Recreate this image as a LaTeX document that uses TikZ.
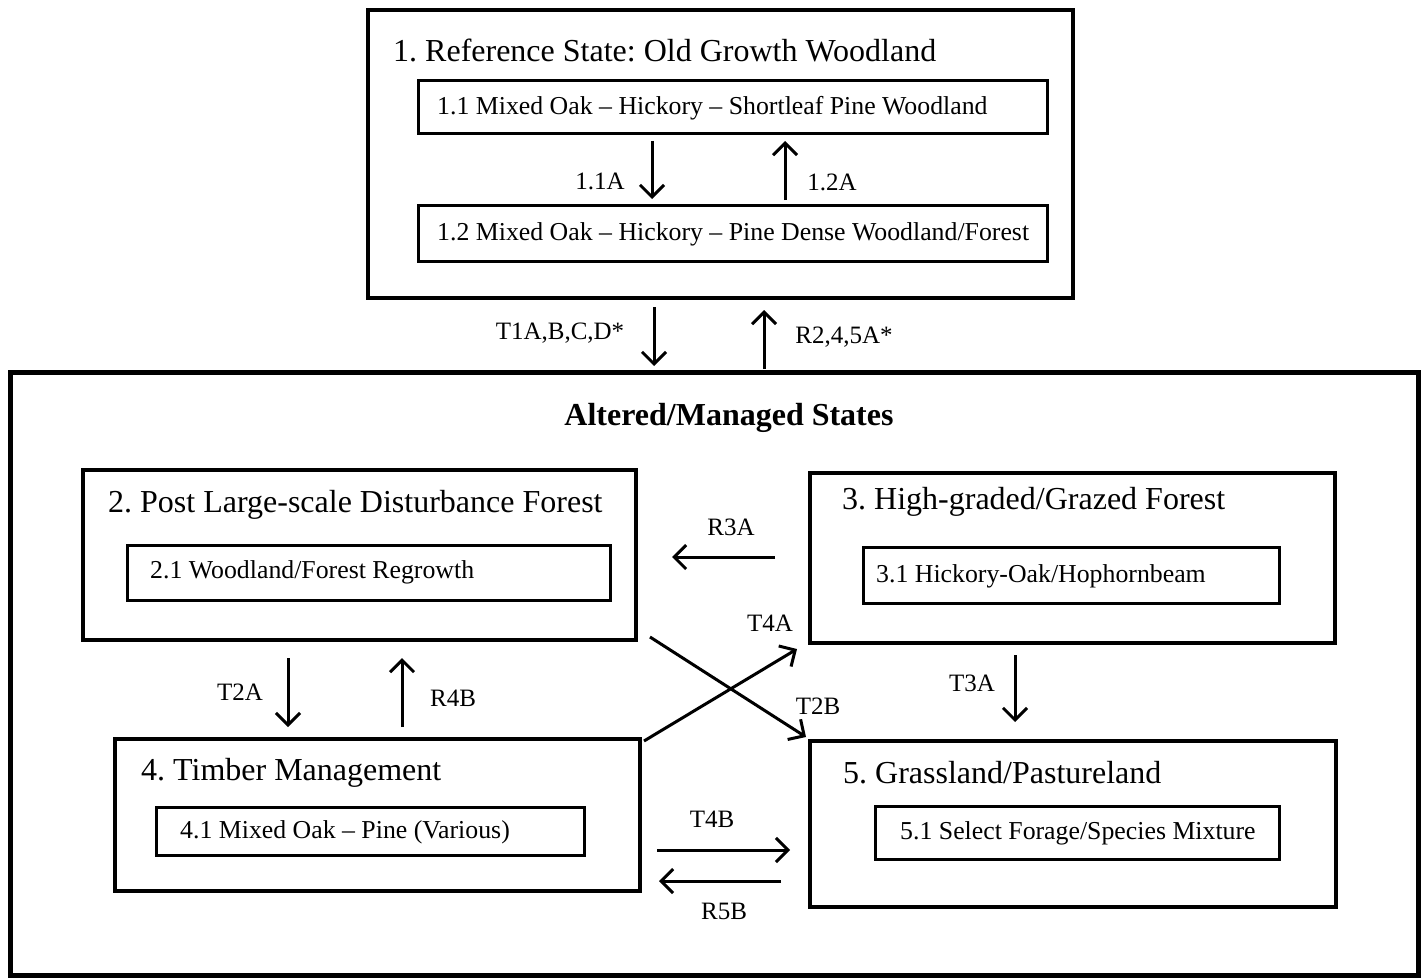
\documentclass[tikz,border=0pt]{standalone}
\usepackage{fontspec}
\setmainfont{Liberation Serif}
\usetikzlibrary{arrows.meta}
\frenchspacing
\begin{document}
\begin{tikzpicture}[x=1pt,y=-1pt,
  statebox/.style={draw, line width=3.5pt, inner sep=0pt},
  subbox/.style={draw, line width=3pt, inner sep=0pt},
  bigbox/.style={draw, line width=5pt, inner sep=0pt},
  titletext/.style={anchor=west, inner sep=0pt, font=\fontsize{32}{36}\selectfont},
  subtext/.style={anchor=west, inner sep=0pt, font=\fontsize{25.8}{30}\selectfont},
  lbl/.style={inner sep=0pt, font=\fontsize{25}{28}\selectfont},
  arr/.style={line width=3pt, -{Straight Barb[length=12pt,width=24pt]}}
]
\path[fill=white, use as bounding box] (0,0) rectangle (1425,979);

% boxes
\node[statebox, minimum width=705pt, minimum height=288pt] (b1) at (720.5,154) {};
\node[subbox, minimum width=629pt, minimum height=53pt] (b11) at (732.5,107.5) {};
\node[subbox, minimum width=629pt, minimum height=56pt] (b12) at (732.5,233) {};
\node[bigbox, minimum width=1408pt, minimum height=603pt] (outer) at (714,673.5) {};
\node[statebox, minimum width=553pt, minimum height=170pt] (b2) at (359.5,555) {};
\node[subbox, minimum width=483pt, minimum height=55pt] (b21) at (368.5,572.5) {};
\node[statebox, minimum width=525pt, minimum height=170pt] (b3) at (1072.5,558) {};
\node[subbox, minimum width=416pt, minimum height=56pt] (b31) at (1071,575) {};
\node[statebox, minimum width=525pt, minimum height=152pt] (b4) at (377.5,815) {};
\node[subbox, minimum width=428pt, minimum height=48pt] (b41) at (370,831) {};
\node[statebox, minimum width=526pt, minimum height=166pt] (b5) at (1073,824) {};
\node[subbox, minimum width=404pt, minimum height=53pt] (b51) at (1077,832.5) {};

% texts
\node[titletext] (t1) at (393,50) {1. Reference State: Old Growth Woodland};
\node[subtext] (t11) at (437,108) {1.1 Mixed Oak – Hickory – Shortleaf Pine Woodland};
\node[subtext] (t12) at (437,234) {1.2 Mixed Oak – Hickory – Pine Dense Woodland/Forest};
\node[inner sep=0pt, font=\fontsize{32}{36}\selectfont\bfseries] (tout) at (729,418) {Altered/Managed States};
\node[titletext] (t2) at (108,505) {2. Post Large-scale Disturbance Forest};
\node[subtext] (t21) at (150,572) {2.1 Woodland/Forest Regrowth};
\node[titletext] (t3) at (842,502) {3. High-graded/Grazed Forest};
\node[subtext] (t31) at (876,576) {3.1 Hickory-Oak/Hophornbeam};
\node[titletext] (t4) at (141,773) {4. Timber Management};
\node[subtext] (t41) at (180,832) {4.1 Mixed Oak – Pine (Various)};
\node[titletext] (t5) at (843,773) {5. Grassland/Pastureland};
\node[subtext] (t51) at (900,833) {5.1 Select Forage/Species Mixture};

% connector end points
\coordinate (a1s) at (652,141);  \coordinate (a1e) at (652,199);
\coordinate (a2s) at (785,200);  \coordinate (a2e) at (785,141);
\coordinate (a3s) at (654,307);  \coordinate (a3e) at (654,366);
\coordinate (a4s) at (764,369);  \coordinate (a4e) at (764,310);
\coordinate (a5s) at (775,557);  \coordinate (a5e) at (672,557);
\coordinate (a6s) at (288,658);  \coordinate (a6e) at (288,727);
\coordinate (a7s) at (402,727);  \coordinate (a7e) at (402,658);
\coordinate (a8s) at (644,741);  \coordinate (a8e) at (797,649);
\coordinate (a9s) at (650,637);  \coordinate (a9e) at (806,737);
\coordinate (a10s) at (1015,655); \coordinate (a10e) at (1015,722);
\coordinate (a11s) at (657,850); \coordinate (a11e) at (790,850);
\coordinate (a12s) at (781,881); \coordinate (a12e) at (659,881);

\draw[arr] (a1s) -- (a1e);
\draw[arr] (a2s) -- (a2e);
\draw[arr] (a3s) -- (a3e);
\draw[arr] (a4s) -- (a4e);
\draw[arr] (a5s) -- (a5e);
\draw[arr] (a6s) -- (a6e);
\draw[arr] (a7s) -- (a7e);
\draw[arr] (a8s) -- (a8e);
\draw[arr] (a9s) -- (a9e);
\draw[arr] (a10s) -- (a10e);
\draw[arr] (a11s) -- (a11e);
\draw[arr] (a12s) -- (a12e);

% labels
\node[lbl] (l1) at (600,181) {1.1A};
\node[lbl] (l2) at (832,182) {1.2A};
\node[lbl] (l3) at (560,333) {T1A,B,C,D*};
\node[lbl] (l4) at (844,337) {R2,4,5A*};
\node[lbl] (l5) at (731,527) {R3A};
\node[lbl] (l6) at (240,692) {T2A};
\node[lbl] (l7) at (453,698) {R4B};
\node[lbl] (l8) at (770,623) {T4A};
\node[lbl] (l9) at (818,706) {T2B};
\node[lbl] (l10) at (972,683) {T3A};
\node[lbl] (l11) at (712,819) {T4B};
\node[lbl] (l12) at (724,911) {R5B};
\end{tikzpicture}
\end{document}
